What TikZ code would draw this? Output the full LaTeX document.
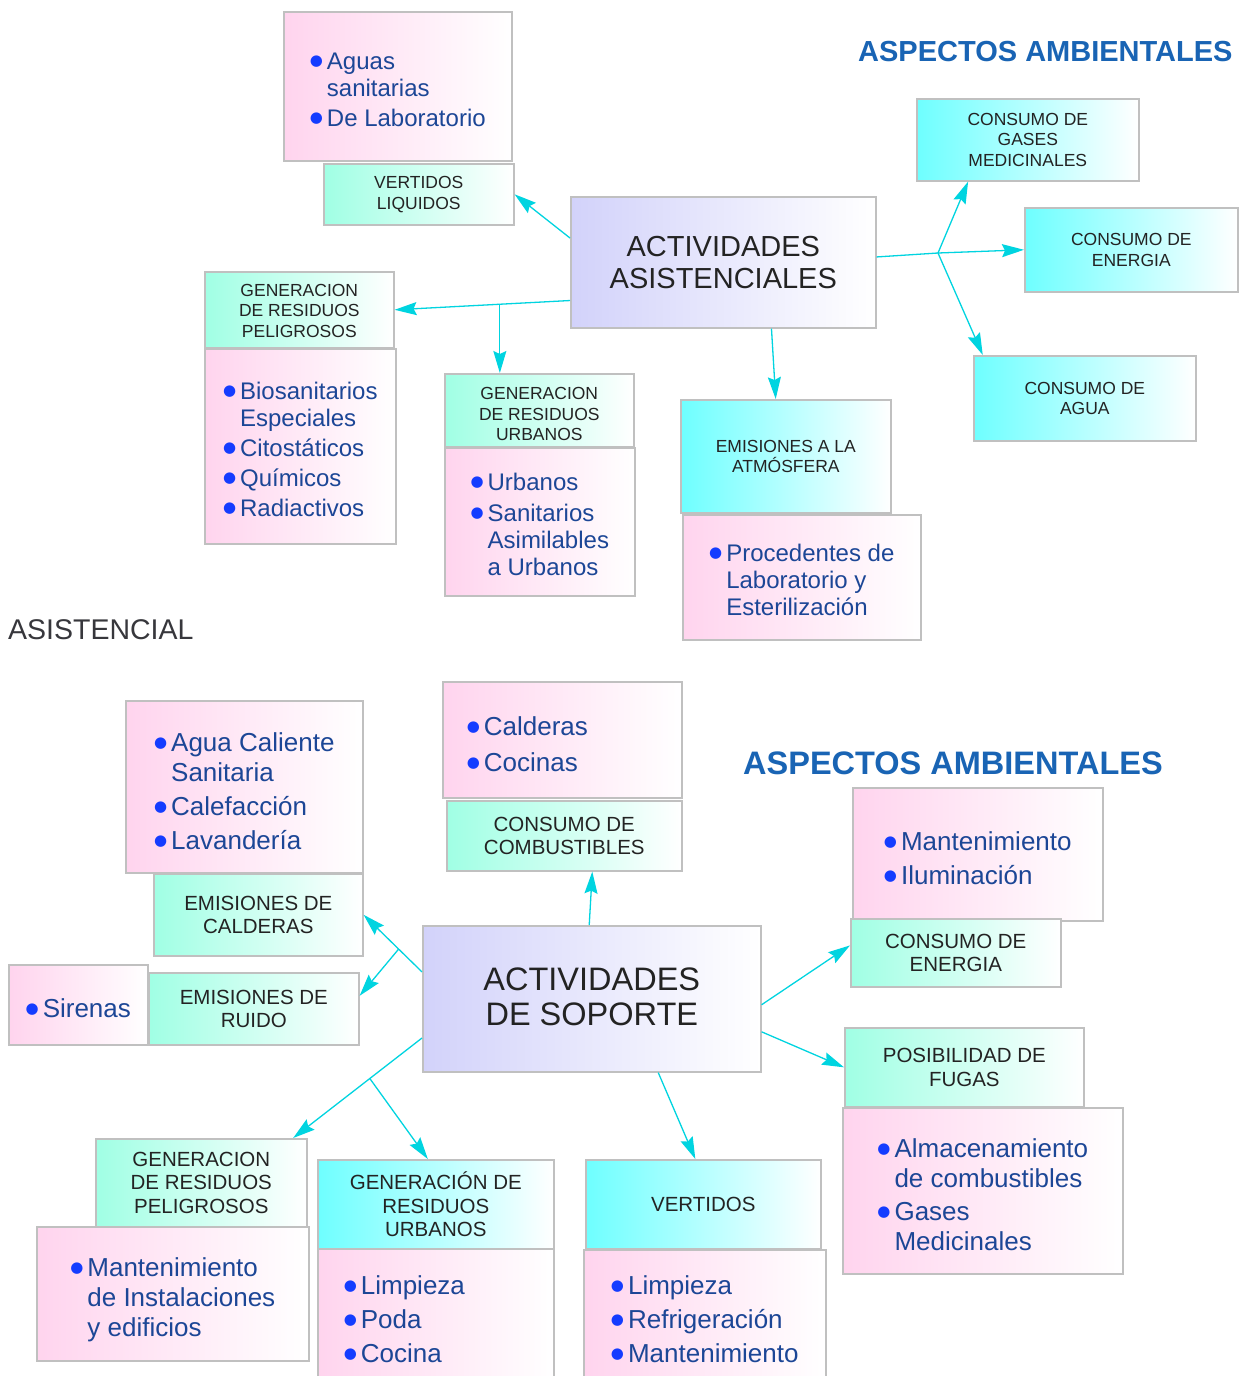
\documentclass[tikz,border=0pt]{standalone}
\usepackage{fontspec}
\setmainfont{Liberation Sans}
\newfontfamily\dejavu{DejaVu Sans}
\usetikzlibrary{arrows.meta,calc}
\definecolor{pinkL}{RGB}{255,212,238}
\definecolor{mintL}{RGB}{160,255,228}
\definecolor{cyanL}{RGB}{110,255,255}
\definecolor{lavL}{RGB}{210,210,250}
\definecolor{boxgray}{RGB}{192,192,192}
\definecolor{listc}{RGB}{28,70,150}
\definecolor{bulc}{RGB}{20,60,255}
\definecolor{headc}{RGB}{35,35,35}
\definecolor{aspc}{RGB}{25,100,180}
\definecolor{graytxt}{RGB}{55,55,60}
\definecolor{connc}{RGB}{0,212,224}
\newcommand{\fTopList}{\fontsize{24}{27}\selectfont}
\newcommand{\fBotList}{\fontsize{26}{30}\selectfont}
\newcommand{\fTopHead}{\fontsize{17.5}{20.5}\selectfont}
\newcommand{\fBotHead}{\fontsize{20.5}{23.5}\selectfont}
\newcommand{\fTitleA}{\fontsize{29}{32}\selectfont}
\newcommand{\fTitleB}{\fontsize{32.5}{35}\selectfont}
\newcommand{\bu}{\textcolor{bulc}{\raisebox{4pt}{\dejavu\fontsize{15}{15}\selectfont ●}}}
\newcommand{\low}[2]{\raisebox{-#1}[\height][\depth]{#2}}
\newenvironment{blist}{\begin{tabular}{@{}l@{\hspace{4pt}}l@{}}}{\end{tabular}}
\begin{document}
\begin{tikzpicture}[x=1pt,y=-1pt,
  bx/.style={anchor=north west, inner sep=0pt, draw=boxgray, line width=1.6pt, align=center},
  pinkbox/.style={bx, left color=pinkL, right color=white, text=listc},
  mintbox/.style={bx, left color=mintL, right color=white, text=headc},
  cyanbox/.style={bx, left color=cyanL, right color=white, text=headc},
  lavbox/.style={bx, left color=lavL, right color=white, text=headc},
  ttext/.style={inner sep=0pt, anchor=west},
  cline/.style={draw=connc, line width=1.3pt},
  conn/.style={cline, -{Stealth[length=22pt,width=13pt,inset=3pt]}}]
\useasboundingbox (0,0) rectangle (1242,1376);
\clip (0,0) rectangle (1242,1376);
\fill[white] (0,0) rectangle (1242,1376);

% ---------- top half ----------
\node[pinkbox, font=\fTopList, minimum width=228pt, minimum height=149pt] (aguas) at (283,11)
  {\low{6pt}{\begin{blist}\bu & Aguas\\ & sanitarias\\[3pt] \bu & De Laboratorio\end{blist}}};
\node[mintbox, font=\fTopHead, minimum width=190pt, minimum height=61pt] (vliq) at (323,163) {VERTIDOS\\LIQUIDOS};
\node[lavbox, font=\fTitleA, minimum width=305pt, minimum height=131pt] (asist) at (570,196) {\low{4pt}{\begin{tabular}{@{}c@{}}ACTIVIDADES\\ASISTENCIALES\end{tabular}}};
\node[ttext, text=aspc, font=\bfseries\fontsize{29}{31}\selectfont] (asp1) at (858,52) {ASPECTOS AMBIENTALES};
\node[cyanbox, font=\fTopHead, minimum width=222pt, minimum height=82pt] (gases) at (916,98) {CONSUMO DE\\GASES\\MEDICINALES};
\node[cyanbox, font=\fTopHead, minimum width=213pt, minimum height=84pt] (ener) at (1024,207) {CONSUMO DE\\ENERGIA};
\node[cyanbox, font=\fTopHead, minimum width=222pt, minimum height=85pt] (agua) at (973,355) {CONSUMO DE\\AGUA};
\node[mintbox, font=\fTopHead, minimum width=189pt, minimum height=76pt] (gpel) at (204,271) {\low{3pt}{\begin{tabular}{@{}c@{}}GENERACION\\DE RESIDUOS\\PELIGROSOS\end{tabular}}};
\node[pinkbox, font=\fTopList, minimum width=191pt, minimum height=195pt] (bios) at (204,348)
  {\low{6pt}{\begin{blist}\bu & Biosanitarios\\ & Especiales\\[3pt] \bu & Citostáticos\\[3pt] \bu & Químicos\\[3pt] \bu & Radiactivos\end{blist}}};
\node[mintbox, font=\fTopHead, minimum width=189pt, minimum height=73pt] (gurb) at (444,373) {\low{6pt}{\begin{tabular}{@{}c@{}}GENERACION\\DE RESIDUOS\\URBANOS\end{tabular}}};
\node[pinkbox, font=\fTopList, minimum width=190pt, minimum height=148pt] (urb) at (444,447)
  {\low{6pt}{\begin{blist}\bu & Urbanos\\[4pt] \bu & Sanitarios\\ & Asimilables\\ & a Urbanos\end{blist}}};
\node[cyanbox, font=\fTopHead, minimum width=210pt, minimum height=113pt] (emat) at (680,399) {EMISIONES A LA\\ATMÓSFERA};
\node[pinkbox, font=\fTopList, minimum width=238pt, minimum height=125pt] (proc) at (682,514)
  {\low{6pt}{\begin{blist}\bu & Procedentes de\\ & Laboratorio y\\ & Esterilización\end{blist}}};
\node[ttext, text=graytxt, font=\fontsize{28.5}{30}\selectfont] (asisten) at (8,630) {ASISTENCIAL};

% ---------- bottom half ----------
\node[pinkbox, font=\fBotList, minimum width=237pt, minimum height=172pt] (acs) at (125,700)
  {\low{8pt}{\begin{blist}\bu & Agua Caliente\\ & Sanitaria\\[4pt] \bu & Calefacción\\[4pt] \bu & Lavandería\end{blist}}};
\node[mintbox, font=\fBotHead, minimum width=209pt, minimum height=82pt] (ecal) at (153,873) {EMISIONES DE\\CALDERAS};
\node[pinkbox, font=\fBotList, minimum width=239pt, minimum height=116pt, text width=191pt, align=left] (cald) at (442,681)
  {\noindent\low{8pt}{\begin{blist}\bu & Calderas\\[6pt] \bu & Cocinas\end{blist}}};
\node[mintbox, font=\fBotHead, minimum width=235pt, minimum height=70pt] (comb) at (446,800) {CONSUMO DE\\COMBUSTIBLES};
\node[ttext, text=aspc, font=\bfseries\fontsize{32.5}{34}\selectfont] (asp2) at (743,763) {ASPECTOS AMBIENTALES};
\node[pinkbox, font=\fBotList, minimum width=250pt, minimum height=133pt] (mant) at (852,787)
  {\low{7pt}{\begin{blist}\bu & Mantenimiento\\[4pt] \bu & Iluminación\end{blist}}};
\node[mintbox, font=\fBotHead, minimum width=210pt, minimum height=68pt] (ener2) at (850,918) {CONSUMO DE\\ENERGIA};
\node[lavbox, font=\fTitleB, minimum width=338pt, minimum height=146pt] (sop) at (422,925) {\low{2pt}{\begin{tabular}{@{}c@{}}ACTIVIDADES\\DE SOPORTE\end{tabular}}};
\node[pinkbox, font=\fBotList, minimum width=139pt, minimum height=80pt] (sir) at (8,964)
  {\low{7pt}{\begin{blist}\bu & Sirenas\end{blist}}};
\node[mintbox, font=\fBotHead, minimum width=210pt, minimum height=72pt] (ruido) at (148,972) {EMISIONES DE\\RUIDO};
\node[mintbox, font=\fBotHead, minimum width=239pt, minimum height=79pt] (fug) at (844,1027) {POSIBILIDAD DE\\FUGAS};
\node[pinkbox, font=\fBotList, minimum width=280pt, minimum height=166pt] (alma) at (842,1107)
  {\low{7pt}{\begin{blist}\bu & Almacenamiento\\ & de combustibles\\[3pt] \bu & Gases\\ & Medicinales\end{blist}}};
\node[mintbox, font=\fBotHead, minimum width=211pt, minimum height=88pt] (gpel2) at (95,1138) {GENERACION\\DE RESIDUOS\\PELIGROSOS};
\node[pinkbox, font=\fBotList, minimum width=272pt, minimum height=134pt] (minst) at (36,1226)
  {\low{7pt}{\begin{blist}\bu & Mantenimiento\\ & de Instalaciones\\ & y edificios\end{blist}}};
\node[cyanbox, font=\fBotHead, minimum width=236pt, minimum height=89pt] (gurb2) at (317,1159) {GENERACIÓN DE\\RESIDUOS\\URBANOS};
\node[pinkbox, font=\fBotList, minimum width=236pt, minimum height=140pt, text width=184pt, align=left] (limp) at (317,1248)
  {\noindent\low{3.5pt}{\begin{blist}\bu & Limpieza\\[4pt] \bu & Poda\\[4pt] \bu & Cocina\end{blist}}};
\node[cyanbox, font=\fBotHead, minimum width=235pt, minimum height=89pt] (vert) at (585,1159) {VERTIDOS};
\node[pinkbox, font=\fBotList, minimum width=242pt, minimum height=140pt] (limp2) at (583,1249)
  {\low{3pt}{\begin{blist}\bu & Limpieza\\[4pt] \bu & Refrigeración\\[4pt] \bu & Mantenimiento\end{blist}}};

% ---------- connectors, top ----------
\draw[conn] (asist.171) -- (vliq.east);
\draw[conn] (asist.-166.5) -- (gpel.east);
\coordinate (b1) at ($(asist.-166.5)!0.4!(gpel.east)$);
\draw[conn] (b1) -- (b1 |- gurb.north);
\draw[conn] (asist.-54.5) -- (emat.100);
\coordinate (b2) at (938,253);
\draw[cline] (asist.2.4) -- (b2);
\draw[conn] (b2) -- (ener.west);
\draw[conn] (b2) -- (gases.-145);
\draw[conn] (b2) -- (agua.157.2);

% ---------- connectors, bottom ----------
\draw[conn] (sop.92.4) -- (comb.-52.9);
\draw[conn] (sop.171.3) -- (ecal.east);
\coordinate (b3) at ($(sop.171.3)!0.4!(ecal.east)$);
\draw[conn] (b3) -- (ruido.7);
\draw[conn] (sop.193.3) -- (gpel2.26);
\coordinate (b4) at ($(sop.193.3)!0.405!(gpel2.26)$);
\draw[conn] (b4) -- (gurb2.100.4);
\draw[conn] (sop.-48.3) -- (vert.100.8);
\draw[conn] (sop.-2.4) -- (ener2.176.2);
\draw[conn] (sop.-11.7) -- (fug.west);
\end{tikzpicture}
\end{document}
